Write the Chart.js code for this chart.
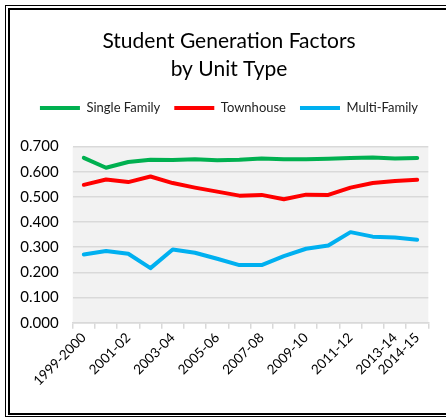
<!DOCTYPE html>
<html lang="en">
<head>
    <meta charset="UTF-8">
    <title>Student Generation Factors by Unit Type</title>
    <script src="https://cdn.jsdelivr.net/npm/chart.js"></script>
    <style>
        body {
            margin: 0;
            background: #fff;
        }
        #wrap {
            position: relative;
            width: 446px;
            height: 417px;
            overflow: hidden;
        }
        #wrap canvas {
            position: absolute;
            left: 0;
            top: 0;
        }
        .frame {
            position: absolute;
            box-sizing: border-box;
            pointer-events: none;
        }
        .outer {
            left: 5px; top: 5px; width: 500px; height: 412px;
            border: 1px solid #000;
        }
        .inner {
            left: 8px; top: 8px; width: 500px; height: 407px;
            border: 2px solid #000;
        }
    </style>
</head>
<body>
    <div id="wrap">
        <canvas id="sgfChart" width="446" height="417"></canvas>
        <div class="frame outer"></div>
        <div class="frame inner"></div>
    </div>

    <script>
        // data
        const years = ['1999-2000', '2000-01', '2001-02', '2002-03', '2003-04', '2004-05', '2005-06', '2006-07',
            '2007-08', '2008-09', '2009-10', '2010-11', '2011-12', '2012-13', '2013-14', '2014-15'];
        const shownLabels = ['1999-2000', '2001-02', '2003-04', '2005-06', '2007-08', '2009-10', '2011-12', '2013-14', '2014-15'];
        const singleFamily = [0.655, 0.616, 0.639, 0.648, 0.647, 0.650, 0.646, 0.648, 0.653, 0.650, 0.650, 0.652, 0.655, 0.657, 0.653, 0.655];
        const townhouse = [0.548, 0.569, 0.559, 0.581, 0.555, 0.537, 0.521, 0.505, 0.508, 0.491, 0.509, 0.508, 0.537, 0.555, 0.563, 0.568];
        const multiFamily = [0.271, 0.285, 0.274, 0.217, 0.291, 0.278, 0.254, 0.229, 0.229, 0.265, 0.294, 0.307, 0.360, 0.342, 0.339, 0.330];
        const yTicks = [0, 0.1, 0.2, 0.3, 0.4, 0.5, 0.6, 0.7];

        const fontFamily = "Lato, 'Open Sans', sans-serif";

        // grey plot background
        const plotBackground = {
            id: 'plotBackground',
            beforeDraw(chart) {
                const { ctx, chartArea } = chart;
                ctx.save();
                ctx.fillStyle = '#f2f2f2';
                ctx.fillRect(chartArea.left, chartArea.top, chartArea.right - chartArea.left, chartArea.bottom - chartArea.top);
                ctx.restore();
            }
        };

        function series(label, data, color) {
            return {
                label: label,
                data: data,
                borderColor: color,
                backgroundColor: color,
                borderWidth: 4,
                borderCapStyle: 'round',
                borderJoinStyle: 'round',
                pointRadius: 0,
                tension: 0,
                fill: false
            };
        }

        const ctx = document.getElementById('sgfChart').getContext('2d');
        const sgfChart = new Chart(ctx, {
            type: 'line',
            data: {
                labels: years,
                datasets: [
                    series('Single Family', singleFamily, '#00b050'),
                    series('Townhouse', townhouse, '#ff0000'),
                    series('Multi-Family', multiFamily, '#00b0f0')
                ]
            },
            options: {
                responsive: false,
                animation: false,
                layout: {
                    padding: { left: 12, right: 0, bottom: 6, top: 0 }
                },
                plugins: {
                    title: {
                        display: true,
                        text: ['Student Generation Factors', 'by Unit Type'],
                        color: '#000',
                        font: { family: fontFamily, size: 21, weight: 'normal', lineHeight: 1.3 },
                        padding: { top: 28, bottom: 5 }
                    },
                    legend: {
                        display: true,
                        position: 'top',
                        weight: 1800,
                        labels: {
                            usePointStyle: true,
                            pointStyle: 'line',
                            pointStyleWidth: 40,
                            color: '#222',
                            padding: 14,
                            font: { family: fontFamily, size: 13 }
                        }
                    },
                    // empty subtitle used as a spacer below the legend
                    subtitle: {
                        display: true,
                        text: '',
                        font: { size: 10, lineHeight: 1.2 },
                        padding: { top: 5, bottom: 5 }
                    },
                    tooltip: { enabled: false }
                },
                scales: {
                    x: {
                        offset: true,
                        afterFit: (scale) => { scale.height = 88.3; },
                        grid: {
                            offset: true,
                            drawOnChartArea: false,
                            drawTicks: true,
                            tickLength: 6,
                            color: '#d9d9d9',
                            lineWidth: 1.5
                        },
                        border: { color: '#d9d9d9', width: 1.5 },
                        ticks: {
                            autoSkip: false,
                            minRotation: 45,
                            maxRotation: 45,
                            padding: 1,
                            color: '#000',
                            font: { family: fontFamily, size: 13.5 },
                            callback: function (val, i) {
                                const lbl = years[i];
                                return shownLabels.includes(lbl) ? lbl : '';
                            }
                        }
                    },
                    y: {
                        min: 0,
                        max: 0.7,
                        afterFit: (scale) => { scale.width = 60.7; },
                        afterBuildTicks: (scale) => {
                            scale.ticks = yTicks.map(v => ({ value: v }));
                        },
                        grid: {
                            drawTicks: false,
                            color: '#d9d9d9',
                            lineWidth: 1.5
                        },
                        border: { display: false },
                        ticks: {
                            autoSkip: false,
                            padding: 14,
                            color: '#000',
                            font: { family: fontFamily, size: 15 },
                            callback: (v) => Number(v).toFixed(3)
                        }
                    },
                    // empty right-hand margin so the title sits centred in the frame
                    yRight: {
                        position: 'right',
                        min: 0,
                        max: 0.7,
                        afterFit: (scale) => { scale.width = 17.7; },
                        grid: { display: false },
                        border: { display: false },
                        ticks: { display: false }
                    }
                }
            },
            plugins: [plotBackground]
        });
    </script>
</body>
</html>
